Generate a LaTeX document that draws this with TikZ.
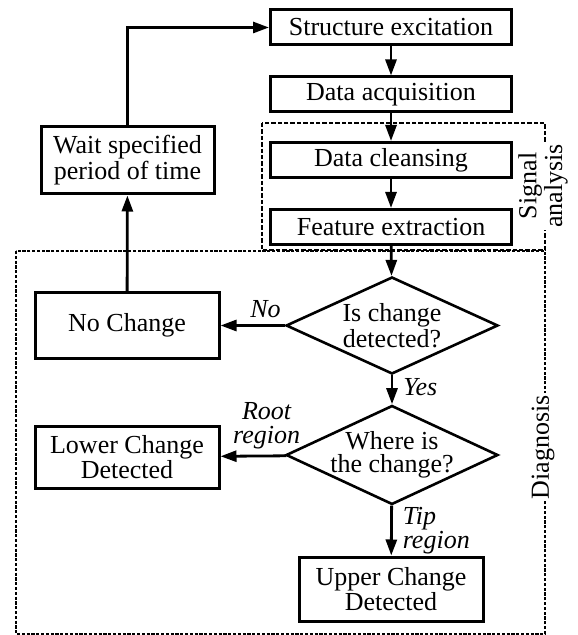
\documentclass[tikz,border=0pt]{standalone}
\usepackage{fontspec}
\setmainfont{Liberation Serif}
\usepackage{tikz}
\usetikzlibrary{shapes.geometric,arrows.meta,positioning}
\tikzstyle{block}=[draw,line width=1.5pt,fill=white,minimum width=120.5pt,minimum height=17.5pt,inner sep=1pt,align=center]
\tikzstyle{decision}=[draw,diamond,aspect=2.19,line width=1.3pt,inner sep=-2pt,minimum width=106pt,minimum height=48.5pt,align=center]
\tikzstyle{answer}=[font=\fontsize{13}{12}\selectfont\itshape,inner sep=1pt,align=center]
\tikzstyle{flow}=[-{Triangle[length=8pt,width=5.5pt]},line width=1.4pt]
\tikzstyle{grouplabel}=[fill=white,rotate=90,inner sep=1pt,align=center]

\begin{document}
\begin{tikzpicture}[x=0.5pt,y=-0.5pt,
every node/.style={font=\fontsize{13}{11.5}\selectfont}]
\useasboundingbox (0,0) rectangle (577,635);
% dashed groups
\draw [line width=1.2pt,dash pattern=on 2.2pt off 1pt] (262,123) rectangle (545,250);
\draw [line width=1.2pt,dash pattern=on 1.6pt off 0.8pt] (16,251) rectangle (545,634);
\node [grouplabel] (sigtag) at (543,186) {Signal\\analysis};
\node [grouplabel] (diagtag) at (543,447) {Diagnosis};
% main chain
\node [block] (excite) at (391,27.5) {Structure excitation};
\node [block] (acquire) at (391,94.5) {Data acquisition};
\node [block] (cleanse) at (391,160) {Data cleansing};
\node [block] (feature) at (391,227) {Feature extraction};
\node [block,minimum width=86.5pt,minimum height=33.5pt] (wait) at (127.5,160.5) {Wait specified\\period of time};
\node [decision] (changed) at (392,325.5) {Is change\\detected?};
\node [block,minimum width=92pt,minimum height=32.5pt] (nochange) at (127,325.5) {No Change};
\node [decision,minimum height=49.5pt] (where) at (392,455) {Where is\\the change?};
\node [block,minimum width=92pt,minimum height=31pt] (lower) at (127,457) {Lower Change\\Detected};
\node [block,minimum width=92pt,minimum height=32pt] (upper) at (391,589) {Upper Change\\Detected};
% connectors
\draw [flow] (wait.north) |- (excite.west);
\draw [flow] (excite) -- (acquire);
\draw [flow] (acquire) -- (cleanse);
\draw [flow] (cleanse) -- (feature);
\draw [flow] (feature) -- (changed);
\draw [flow] (changed) -- node [answer,above,pos=0.3,yshift=2pt] {No} (nochange);
\draw [flow] (nochange) -- (wait);
\draw [flow] (changed) -- node [answer,right=4pt,pos=0.4] {Yes} (where);
\draw [flow] (where) -- node [answer,above,pos=0.3,yshift=2pt] {Root\\region} (lower);
\draw [flow] (where) -- node [answer,right=4pt,align=left] {Tip\\region} (upper);
\end{tikzpicture}
\end{document}
